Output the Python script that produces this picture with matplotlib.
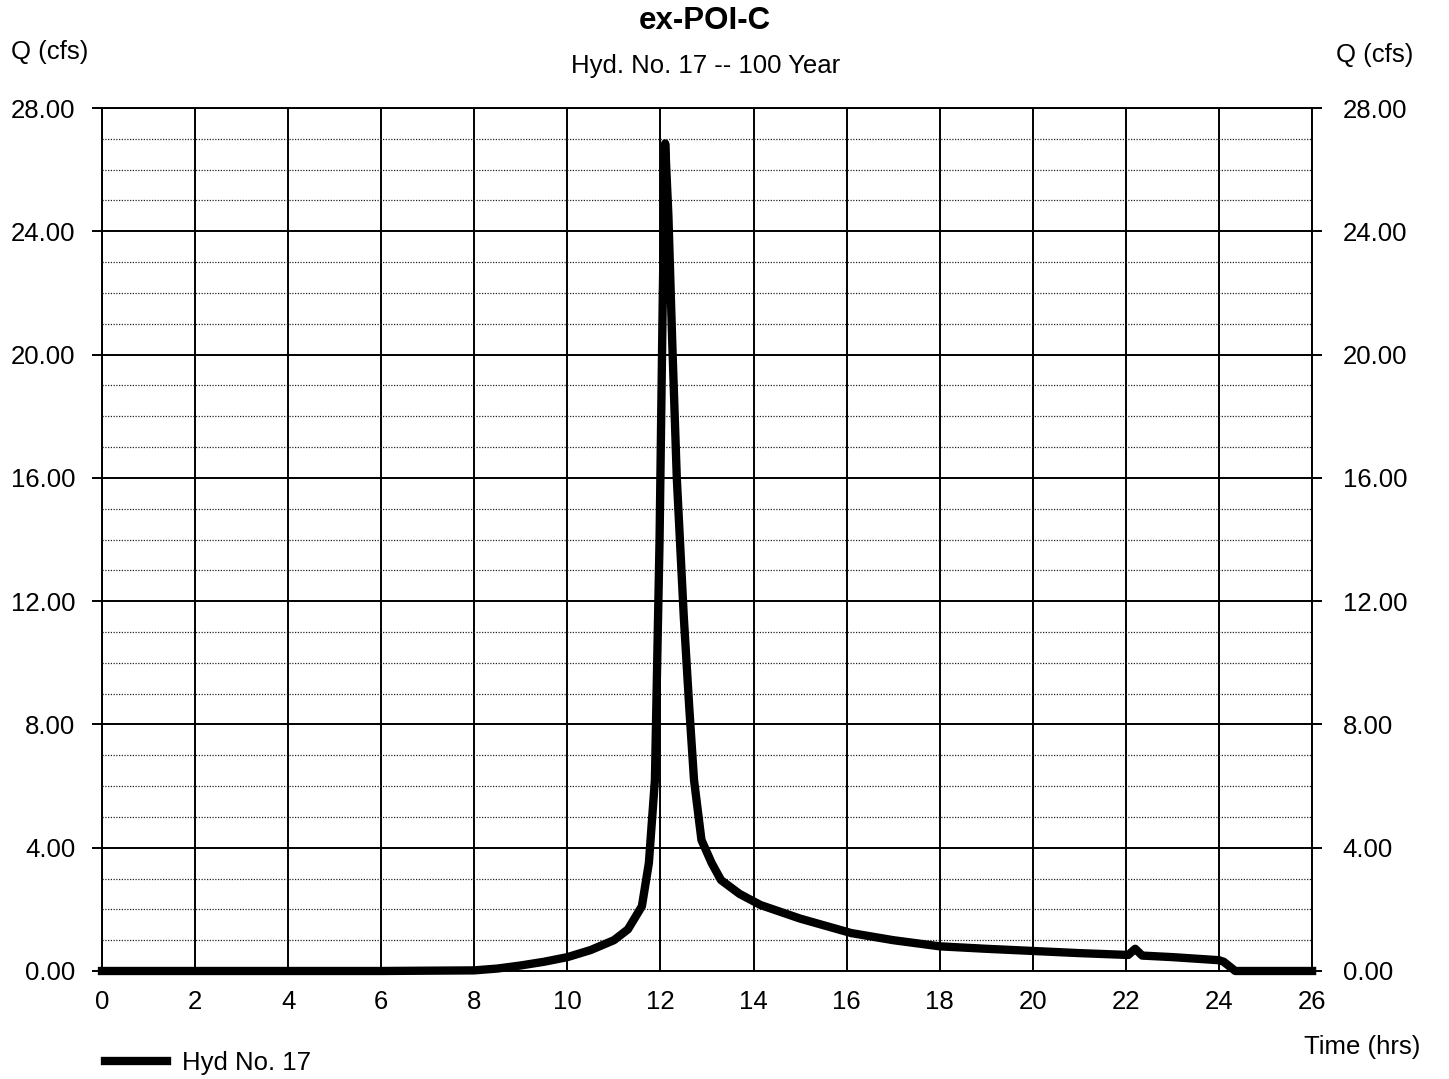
import numpy as np
import matplotlib.pyplot as plt
from matplotlib.ticker import MultipleLocator, FormatStrFormatter

plt.rcParams['font.family'] = ['Liberation Sans', 'DejaVu Sans']

# hydrograph
time_hrs = [0, 2, 4, 6, 8, 8.5, 9.0, 9.5, 10.0, 10.5, 11.0, 11.3, 11.6, 11.75,
            11.88, 11.98, 12.05, 12.1, 12.17, 12.25, 12.35, 12.5, 12.62, 12.72,
            12.88, 13.1, 13.3, 13.7, 14.15, 15.0, 16.1, 17.0, 18.0, 19.0, 20.0,
            21.0, 22.05, 22.2, 22.35, 23.0, 24.0, 24.1, 24.35, 25.0, 26.0]
flow_cfs = [0.0, 0.0, 0.0, 0.0, 0.02, 0.08, 0.18, 0.3, 0.45, 0.68, 1.0, 1.35,
            2.1, 3.5, 6.2, 14.0, 22.0, 26.85, 24.5, 20.5, 16.0, 11.5, 8.5, 6.2,
            4.25, 3.5, 2.95, 2.5, 2.14, 1.7, 1.23, 1.0, 0.8, 0.72, 0.65, 0.58,
            0.52, 0.72, 0.5, 0.45, 0.35, 0.3, 0.0, 0.0, 0.0]

title = 'ex-POI-C'
subtitle = 'Hyd. No. 17 -- 100 Year'
series_name = 'Hyd No. 17'
fs = 18.5

fig = plt.figure(figsize=(14.49, 10.79), dpi=100)
ax = fig.add_axes([0.0704, 0.1001, 0.8351, 0.7998])

line, = ax.plot(time_hrs, flow_cfs, color='black', lw=6,
                solid_joinstyle='round', clip_on=False, zorder=5,
                label=series_name)

ax.set_xlim(0, 26)
ax.set_ylim(0, 28)
ax.xaxis.set_major_locator(MultipleLocator(2))
ax.yaxis.set_major_locator(MultipleLocator(4))
ax.yaxis.set_minor_locator(MultipleLocator(1))
ax.yaxis.set_major_formatter(FormatStrFormatter('%.2f'))

ax.grid(which='major', color='black', lw=1.4)
ax.grid(which='minor', axis='y', color='#222222', lw=0.9, linestyle=(0, (1, 1.2)))
ax.set_axisbelow(True)

for s in ax.spines.values():
    s.set_linewidth(1.4)

ax.tick_params(axis='y', which='major', length=7, width=1.4, labelsize=fs, pad=12)
ax.tick_params(axis='y', which='minor', length=0)
ax.tick_params(axis='x', length=0, labelsize=fs, pad=14)

# right hand scale
ax2 = ax.twinx()
ax2.set_ylim(0, 28)
ax2.yaxis.set_major_locator(MultipleLocator(4))
ax2.yaxis.set_major_formatter(FormatStrFormatter('%.2f'))
ax2.tick_params(axis='y', length=7, width=1.4, labelsize=fs, pad=15)
for s in ax2.spines.values():
    s.set_visible(False)

fig.text(0.4866, 0.9805, title, ha='center', va='center', fontsize=22.5, fontweight='bold')
fig.text(0.4866, 0.9385, subtitle, ha='center', va='center', fontsize=fs)
fig.text(0.0345, 0.9518, 'Q (cfs)', ha='center', va='center', fontsize=fs)
fig.text(0.949, 0.949, 'Q (cfs)', ha='center', va='center', fontsize=fs)
fig.text(0.94, 0.0297, 'Time (hrs)', ha='center', va='center', fontsize=fs)

fig.legend(handles=[line], loc='center left', bbox_to_anchor=(0.0725, 0.0148),
           frameon=False, fontsize=fs, handlelength=2.4, handletextpad=0.6,
           borderpad=0, borderaxespad=0)

plt.savefig('out.png', dpi=100)
